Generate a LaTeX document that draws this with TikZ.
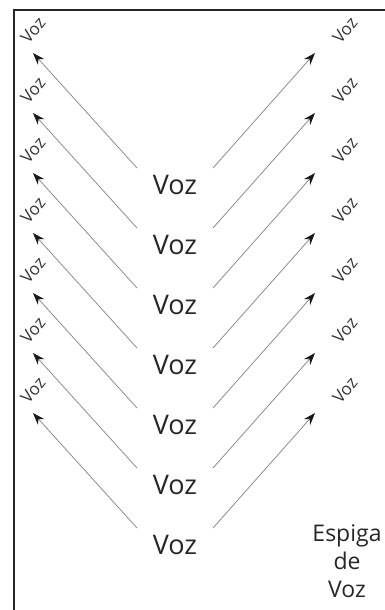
\documentclass[tikz,border=0pt]{standalone}
\usepackage{fontspec}
\setmainfont{Open Sans}
\usetikzlibrary{arrows.meta}
\begin{document}
\begin{tikzpicture}[x=1pt,y=-1pt,
  bigvoz/.style={text=black!85, font=\fontsize{27}{28}\selectfont, inner sep=0pt},
  smallvoz/.style={text=black!80, font=\fontsize{17}{19}\selectfont, inner sep=0pt, rotate=50},
  ray/.style={draw=black!45, line width=0.8pt, -{Stealth[length=12pt,width=8.5pt,color=black!90]}},
  frameline/.style={draw=black!85, line width=1.5pt}
]
\useasboundingbox (0,0) rectangle (385,610);
\draw[frameline] (14,610) -- (14,10) -- (385,10);
\foreach \k in {0,...,6}{
  \pgfmathsetmacro{\yc}{185+60*\k}
  \pgfmathsetmacro{\ys}{168+60*\k}
  \pgfmathsetmacro{\yt}{53+60*\k}
  \pgfmathsetmacro{\yl}{30+60*\k}
  \node[bigvoz] (c\k) at (175,\yc) {Voz};
  \coordinate (ls\k) at (137,\ys);
  \coordinate (lt\k) at (33,\yt);
  \coordinate (rs\k) at (213,\ys);
  \coordinate (rt\k) at (315,\yt);
  \node[smallvoz] (lv\k) at (33,\yl) {Voz};
  \node[smallvoz] (rv\k) at (345,\yl) {Voz};
  \draw[ray] (ls\k) -- (lt\k);
  \draw[ray] (rs\k) -- (rt\k);
}
\node[bigvoz, font=\fontsize{23}{28}\selectfont, align=center] (esp) at (347,561) {Espiga\\de\\Voz};
\end{tikzpicture}
\end{document}
